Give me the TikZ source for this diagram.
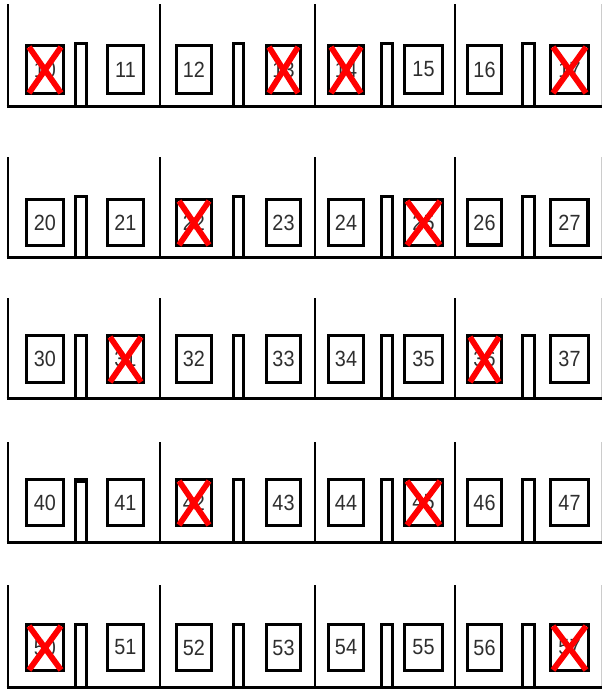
\documentclass[tikz,border=0pt]{standalone}
\usepackage{fontspec}
\setmainfont[FakeStretch=0.9]{Liberation Sans}
\begin{document}
\begin{tikzpicture}[x=1pt,y=-1pt,
  box/.style={draw=black, line width=3pt, fill=white, inner sep=0pt,
    font=\fontsize{22}{22}\selectfont, text=black!82},
  cross/.style={draw=red, line width=5.8pt},
  wall/.style={line width=2pt},
  floor/.style={line width=3pt},
  door/.style={draw, line width=2.8pt, fill=white}]
\useasboundingbox (0,0) rectangle (602,691);
\fill[white] (0,0) rectangle (602,691);
\foreach \r/\top/\base/\bt/\bb/\tt in {1/4/106/44/95/42, 2/157/257/198/247/195, 3/298/398/334/384/334, 4/442/542/478/527/478, 5/585/687/623/672/623} {
  \foreach \x in {8,160,315,455} \draw[wall] (\x,\top) -- (\x,\base);
  \draw[gray!40, line width=1pt] (601.5,\top) -- (601.5,\base);
  \foreach \a/\b in {74/88,232/245,380/394,521/536}
    \draw[door] (\a+1.4,\tt+1.4) rectangle (\b-1.4,\base);
  \draw[floor] (6.5,\base) -- (602,\base);
  \foreach \i/\a/\b in {0/25/65,1/106/145,2/175/213,3/265/302,4/327/365,5/403/444,6/466/503,7/549/590}
    \node[box, minimum width={\b-\a-3}, minimum height={\bb-\bt-3}] (b\r\i) at ({(\a+\b)/2},{(\bt+\bb)/2}) {\r\i};
}
% heavier edges seen in the reference
\draw[line width=3pt] ([yshift=2.5pt]b26.south west) -- ([yshift=2.5pt]b26.south east);
\draw[line width=3pt] ([xshift=-2.5pt]b27.north east) -- ([xshift=-2.5pt]b27.south east);
\draw[line width=3pt] (75.4,481) -- (86.6,481);
\foreach \n in {10,13,14,17,22,25,31,36,42,45,50,57} {
  \draw[cross] ([xshift=4pt,yshift=-3pt]b\n.north west) -- ([xshift=-4pt,yshift=2pt]b\n.south east);
  \draw[cross] ([xshift=-4pt,yshift=-3pt]b\n.north east) -- ([xshift=4pt,yshift=2pt]b\n.south west);
}
\end{tikzpicture}
\end{document}
